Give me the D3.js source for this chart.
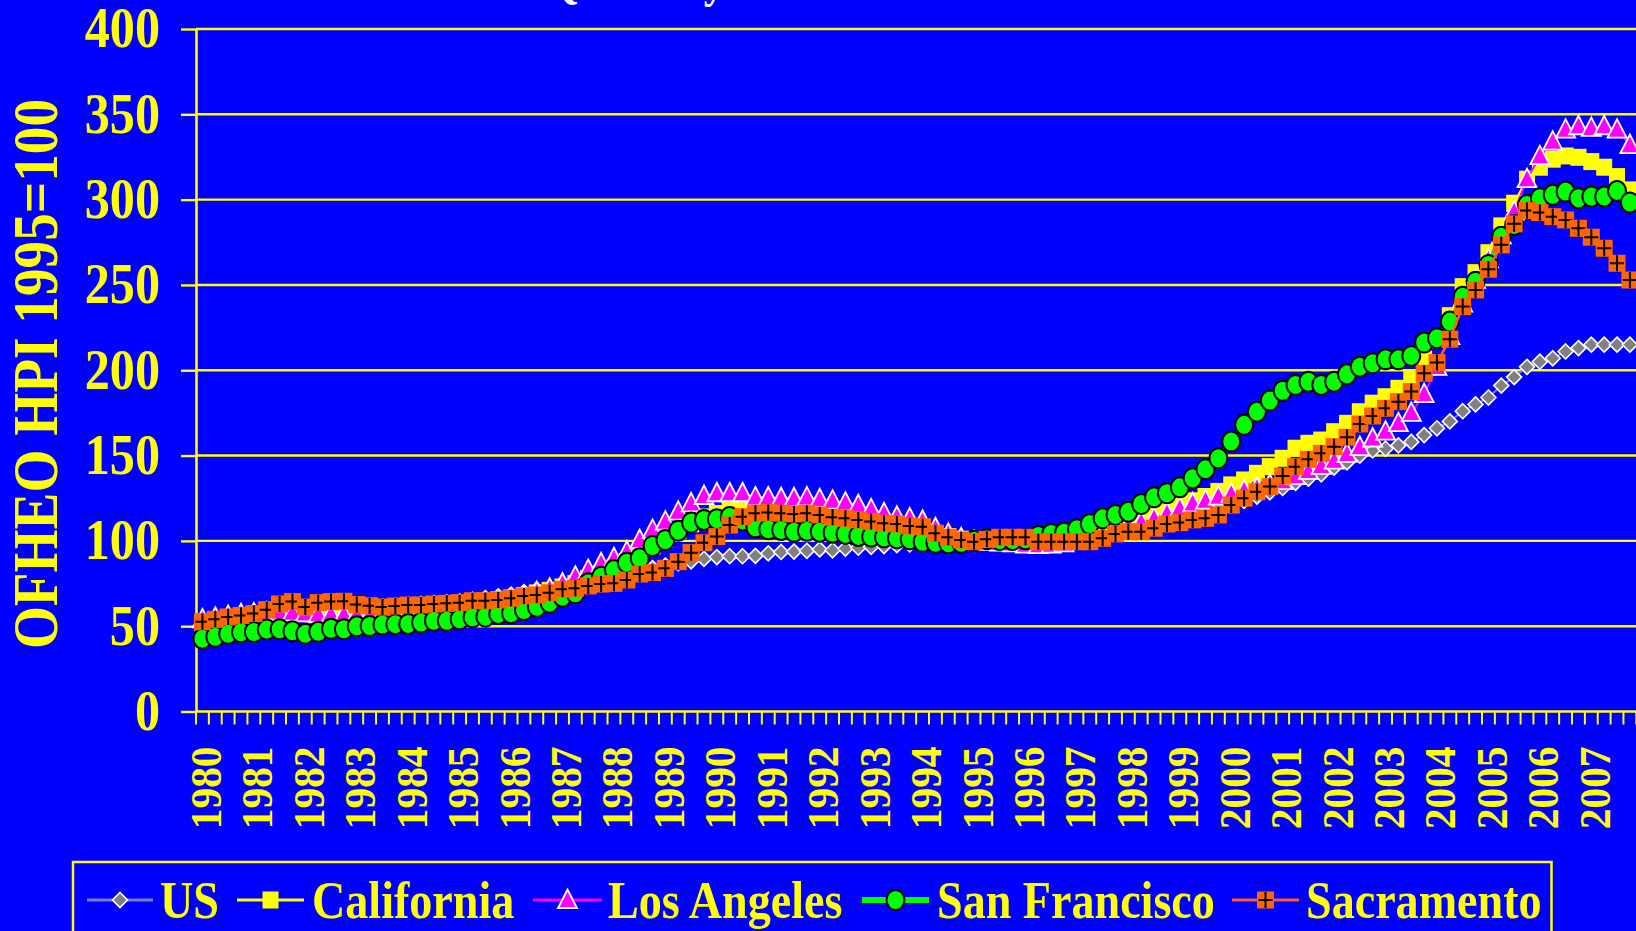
<!DOCTYPE html>
<html>
<head>
<meta charset="utf-8">
<script src="https://cdn.jsdelivr.net/npm/d3@7"></script>
<style>
  html, body { margin: 0; padding: 0; background: #0000ff; overflow: hidden; }
  svg { display: block; }
</style>
</head>
<body>
<script>
// ---- Data: OFHEO house price index, quarterly, 1995 = 100 ----
const chartTitle = "OFHEO Quarterly HPI: US & California Metro Areas";
const yearLabels = ["1980","1981","1982","1983","1984","1985","1986","1987","1988","1989",
  "1990","1991","1992","1993","1994","1995","1996","1997","1998","1999",
  "2000","2001","2002","2003","2004","2005","2006","2007"];
const quarterNames = ["Q1","Q2","Q3","Q4"];
const yTicks = [0, 50, 100, 150, 200, 250, 300, 350, 400];

const usHPI = [
  53, 53.5, 54, 54.5,   55, 55.5, 56, 56.5,   57, 57.5, 58, 58.5,   59.5, 60.5, 61.5, 62,
  62.5, 63, 63.5, 64,   64.5, 65.5, 66.5, 67.5, 68.5, 70, 71.5, 72.5, 74, 75.5, 77, 78,
  79.5, 81, 82.5, 84,   85.5, 87, 88, 89.5,   90.5, 91, 91, 91.2,   92.7, 93.5, 93.7, 94.2,
  95, 94.5, 95.5, 96,   96.5, 97, 97.5, 98,   98.5, 99, 99.3, 99.6, 100, 100.2, 100.5, 100.8,
  101.5, 102, 102.5, 103, 103.5, 104.5, 105.5, 106.5, 107.5, 109, 110.5, 112, 113.5, 115, 117, 119,
  121, 123.5, 126, 128.5, 131, 134, 136.5, 139, 143, 146, 150, 153, 154, 156, 158, 162,
  166, 170, 176, 180,   184, 191, 196, 202,   205, 207, 211, 213,   215, 215, 215, 215
];
const californiaHPI = [
  52, 53, 54, 55,       56, 57, 58, 58.5,     58, 58, 58.5, 58.5,   59, 59, 59.5, 60,
  60.5, 61, 61.5, 62,   62.5, 63.5, 64.5, 65.5, 66.5, 68, 69.5, 71, 73, 75, 78, 81,
  84, 88, 92, 97,       101, 106, 110, 114,   116, 118, 118, 118,   117.5, 117, 116.5, 116,
  115.5, 114.5, 113.5, 112, 111, 110, 108.5, 107, 105.5, 104, 102.5, 101, 100, 99.5, 99, 98.5,
  98.5, 98.5, 99, 99.5, 101, 103, 105, 107,   109, 113, 115.5, 118,  121, 123.5, 126, 129,
  132.8, 135.7, 139.6, 143.5, 148.4, 154.3, 157.2, 159.1, 164, 168.9, 175.7, 180.7, 184.5, 189.4, 194.7, 206.4,
  218, 232, 249, 257.2, 268.9, 284.6, 297.9, 312, 319, 323.7, 325.6, 324.8, 322.3, 319, 313.5, 305.7
];
const losAngelesHPI = [
  54, 55, 56, 57,       57.5, 58, 58.5, 58,   57.5, 57, 57, 57,     57, 56.5, 56.5, 57,
  57.5, 58, 58.5, 59,   60, 61, 62, 63.5,     65, 67, 70, 72,       75, 79, 83, 86.9,
  89.8, 93.7, 100.5, 106.4, 111.3, 117.1, 122, 126.3, 127.9, 127.9, 127.9, 125.5, 125.5, 125, 125, 125.5,
  124.4, 123.6, 122.4, 121, 118.5, 116.2, 114.2, 113.2, 111.8, 107.4, 104.1, 101.5, 100, 99.5, 99, 98.5,
  97.8, 97.5, 97.8, 98.5, 100, 102, 104.5, 107, 109, 111, 113.2, 116.2, 119.1, 122, 123.6, 125.9,
  127.5, 129.4, 131, 133, 135, 138, 141, 144,  147, 151, 155, 160,    164, 169, 175, 186,
  202, 220, 239, 253,   265, 279, 293, 312,   325.5, 334, 341, 343,  342, 343, 341, 332
];
const sanFranciscoHPI = [
  42.7, 43.8, 45.5, 46.4, 46.6, 48, 48.2, 47, 45.5, 46.7, 48.5, 48.2, 49.9, 50.1, 51, 51.2,
  51.3, 52.1, 53.2, 53.2, 54, 55.2, 55.6, 57.2, 57.6, 59.5, 61.4, 63.8, 67.3, 69.3, 75.1, 79,
  82.9, 87.2, 89.8, 97, 100.5, 106, 110.7, 112.3, 112.7, 114, 112, 108, 106.8, 106.4, 105.4, 106,
  105.4, 104.8, 104.1, 102.9, 102.5, 102.1, 101.5, 100.9, 99.5, 98.9, 98.6, 98.9, 100.1, 100.9, 100.5, 100.5,
  100.9, 102.9, 104.1, 104.8, 106.8, 109.9, 113.2, 115.2, 117.1, 121.6, 125.5, 127.9, 131.4, 136.7, 142, 148.4,
  158.2, 168, 175.7, 182.2, 188, 191.4, 193.3, 191.4, 193.3, 197.6, 202.1, 204.1, 206.4, 206.4, 208.4, 216.2,
  218.8, 228.5, 243.1, 251.9, 261.7, 278.3, 285.2, 296.9, 300.8, 302.8, 304.7, 300.8, 301.8, 301.8, 305.1, 298.3
];
const sacramentoHPI = [
  52.6, 54, 55.4, 56.3, 57.4, 59.7, 63, 64.4, 61.2, 63.8, 64.4, 64.6, 62.7, 62, 61.2, 61.8,
  62.4, 62.4, 63, 63.4, 63.8, 64.9, 64.9, 65.4, 66.4, 67.7, 68.3, 69.6, 71.6, 72.2, 73.6, 74.7,
  75.1, 77.1, 80.6, 81.4, 83.9, 87.8, 93.1, 98.9, 102.5, 109.3, 114.2, 116.2, 116.6, 116.2, 115.8, 116.2,
  115.2, 113.8, 113.2, 112.3, 111.3, 110.3, 109.9, 108.7, 108.3, 104.5, 102.1, 100.5, 99.5, 100.9, 102.1, 102.1,
  102.1, 99.5, 99.5, 99.5, 99.5, 99.5, 101.5, 104.1, 105.4, 105.4, 107.4, 109.9, 110.7, 112.3, 113.2, 115.2,
  121, 125, 128.8, 131.8, 138, 143.5, 147.8, 151.3, 155.2, 160.7, 168.5, 173.2, 177.7, 181.6, 187.5, 198.2,
  204.5, 218.2, 237.3, 247.1, 259.2, 273.5, 285.8, 293.6, 292.4, 290, 288.1, 283.2, 278, 271.5, 262.7, 252.9
];

// ---- Layout ----
const W = 1636, H = 931;
const FONT = "'Liberation Serif','Times New Roman',Times,serif";
const YELLOW = "#ffff00";
const plotLeft = 196, bandW = 12.86, plotTop = 29, plotBottom = 711.5;

const quarterKeys = yearLabels.flatMap(yr => quarterNames.map(q => `${yr} ${q}`));

const x = d3.scaleBand().domain(quarterKeys)
  .range([plotLeft, plotLeft + bandW * quarterKeys.length]).padding(0);
const y = d3.scaleLinear().domain([0, 400]).range([plotBottom, plotTop]);
const cx = k => x(k) + x.bandwidth() / 2;

const svg = d3.select("body").append("svg")
  .attr("width", W).attr("height", H)
  .attr("viewBox", `0 0 ${W} ${H}`);

svg.append("rect").attr("width", W).attr("height", H).attr("fill", "#0000ff");

// Title (sits above the top edge of the slide area)
svg.append("text")
  .attr("transform", "translate(385,-3) scale(0.87,1)")
  .attr("font-family", FONT).attr("font-weight", "bold")
  .attr("font-size", 48).attr("fill", "#ffffff")
  .text(chartTitle);

// Horizontal gridlines
svg.append("g").selectAll("line")
  .data(yTicks.filter(v => v > 0)).join("line")
  .attr("x1", plotLeft).attr("x2", W)
  .attr("y1", d => y(d)).attr("y2", d => y(d))
  .attr("stroke", YELLOW).attr("stroke-width", 2.4);

// Value axis with outward ticks
const yAxisG = svg.append("g")
  .attr("transform", `translate(${plotLeft},0)`)
  .call(d3.axisLeft(y).tickValues(yTicks).tickSize(15).tickSizeOuter(0).tickFormat(""));
yAxisG.select(".domain").attr("stroke", YELLOW).attr("stroke-width", 2.6);
yAxisG.selectAll(".tick line").attr("stroke", YELLOW).attr("stroke-width", 2.4);

// Category axis baseline and quarterly tick marks
svg.append("line")
  .attr("x1", plotLeft).attr("x2", W)
  .attr("y1", y(0)).attr("y2", y(0))
  .attr("stroke", YELLOW).attr("stroke-width", 2.6);
const tickPos = quarterKeys.map(k => x(k)).concat([x.range()[1]]);
svg.append("g").selectAll("line")
  .data(tickPos).join("line")
  .attr("x1", d => d).attr("x2", d => d)
  .attr("y1", y(0)).attr("y2", y(0) + 13)
  .attr("stroke", YELLOW).attr("stroke-width", 2);

// Value axis labels
svg.append("g").selectAll("text")
  .data(yTicks).join("text")
  .attr("transform", d => `translate(160,${y(d) - 1}) scale(0.88,1)`)
  .attr("text-anchor", "end")
  .attr("dy", "0.34em")
  .attr("font-family", FONT).attr("font-weight", "bold")
  .attr("font-size", 57).attr("fill", YELLOW)
  .text(d => d);

// Year labels under the first quarter of each year
svg.append("g").selectAll("text")
  .data(yearLabels).join("text")
  .attr("transform", d => `translate(${cx(d + " Q1") + 3.5},746.5) rotate(-90) scale(0.94,1)`)
  .attr("text-anchor", "end")
  .attr("dy", "0.34em")
  .attr("font-family", FONT).attr("font-weight", "bold")
  .attr("font-size", 44).attr("fill", YELLOW)
  .text(d => d);

// Value axis title
svg.append("text")
  .attr("transform", "translate(36.5,374) rotate(-90) scale(0.877,1)")
  .attr("text-anchor", "middle")
  .attr("dy", "0.33em")
  .attr("font-family", FONT).attr("font-weight", "bold")
  .attr("font-size", 63).attr("fill", YELLOW)
  .text("OFHEO HPI 1995=100");

// ---- Marker shapes ----
function drawMarker(g, type) {
  if (type === "diamond") {
    g.append("path").attr("d", "M0,-7.5L7.5,0L0,7.5L-7.5,0Z")
      .attr("fill", "#808080").attr("stroke", "#ffffff").attr("stroke-width", 1.6);
  } else if (type === "square") {
    g.append("rect").attr("x", -8).attr("y", -8.5).attr("width", 16).attr("height", 17)
      .attr("fill", YELLOW);
  } else if (type === "triangle") {
    g.append("path").attr("d", "M0,-10.5L9.5,8L-9.5,8Z")
      .attr("fill", "#ff00ff").attr("stroke", "#ffffff").attr("stroke-width", 1.8)
      .attr("stroke-linejoin", "miter");
  } else if (type === "circle") {
    g.append("ellipse").attr("rx", 9).attr("ry", 10)
      .attr("fill", "#00ff00").attr("stroke", "#000000").attr("stroke-width", 2);
  } else if (type === "crossSquare") {
    g.append("rect").attr("x", -8.5).attr("y", -8.5).attr("width", 17).attr("height", 17)
      .attr("fill", "#ff6600");
    g.append("path").attr("d", "M-7,0H7M0,-8V8")
      .attr("stroke", "#000000").attr("stroke-width", 2).attr("fill", "none");
  }
}

const series = [
  { name: "US",            values: usHPI,           line: "#7a7ad0", lw: 2,   marker: "diamond" },
  { name: "California",    values: californiaHPI,   line: YELLOW,    lw: 2.5, marker: "square" },
  { name: "Los Angeles",   values: losAngelesHPI,   line: "#ff00ff", lw: 2,   marker: "triangle" },
  { name: "San Francisco", values: sanFranciscoHPI, line: "#00ff00", lw: 4.5, marker: "circle" },
  { name: "Sacramento",    values: sacramentoHPI,   line: "#ff5a28", lw: 2.5, marker: "crossSquare" }
];

const plotG = svg.append("g");
const lineGen = d3.line().x((d, i) => cx(quarterKeys[i])).y(d => y(d));

series.forEach(s => {
  const g = plotG.append("g");
  g.append("path").datum(s.values)
    .attr("d", lineGen).attr("fill", "none")
    .attr("stroke", s.line).attr("stroke-width", s.lw);
  g.selectAll("g.m").data(s.values).join("g")
    .attr("class", "m")
    .attr("transform", (d, i) => `translate(${cx(quarterKeys[i])},${y(d)})`)
    .each(function () { drawMarker(d3.select(this), s.marker); });
});

// ---- Legend ----
const legendItems = [
  { s: series[0], x1: 87,  x2: 153, tx: 160 },
  { s: series[1], x1: 237, x2: 304, tx: 312 },
  { s: series[2], x1: 533, x2: 602, tx: 608 },
  { s: series[3], x1: 862, x2: 929, tx: 937 },
  { s: series[4], x1: 1232, x2: 1299, tx: 1306 }
];
const legend = svg.append("g");
legend.append("rect")
  .attr("x", 73).attr("y", 862).attr("width", 1478.5).attr("height", 120)
  .attr("fill", "none").attr("stroke", YELLOW).attr("stroke-width", 2.5);
legendItems.forEach(it => {
  const ly = 900;
  legend.append("line")
    .attr("x1", it.x1).attr("x2", it.x2).attr("y1", ly).attr("y2", ly)
    .attr("stroke", it.s.line).attr("stroke-width", it.s.marker === "circle" ? 6 : 3);
  const mg = legend.append("g").attr("transform", `translate(${(it.x1 + it.x2) / 2},${ly})`);
  drawMarker(mg, it.s.marker);
  legend.append("text")
    .attr("transform", `translate(${it.tx},918) scale(0.87,1)`)
    .attr("font-family", FONT).attr("font-weight", "bold")
    .attr("font-size", 53).attr("fill", YELLOW)
    .text(it.s.name);
});
</script>
</body>
</html>
